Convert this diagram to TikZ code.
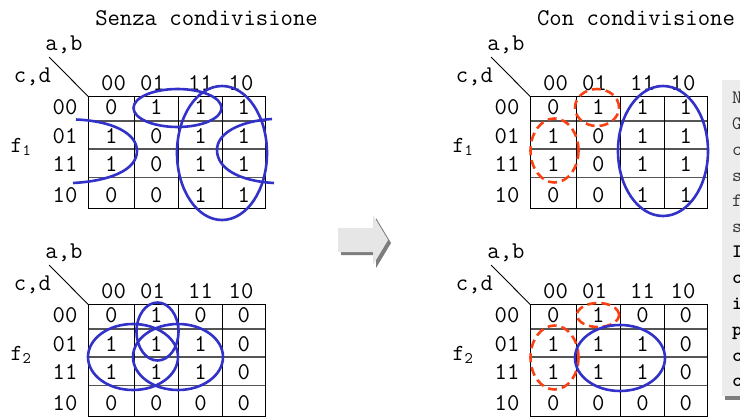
\documentclass[tikz,border=0pt]{standalone}
\definecolor{kblue}{RGB}{50,50,200}
\definecolor{kred}{RGB}{250,65,20}
\definecolor{hgray}{RGB}{85,85,85}
\definecolor{boxgray}{RGB}{236,236,236}
\definecolor{arrowfill}{RGB}{230,230,230}
\definecolor{arrowshade}{RGB}{125,125,125}
\newcommand\kmapgrid[3]{%
\begin{scope}[shift={#2}]
 \foreach \y in {120.7,149,177.3} \draw[gridh] (88.5,\y) -- (265,\y);
 \foreach \x in {134.3,178.5,222.5} \draw[gridv] (\x,96.7) -- (\x,208.5);
 \draw[gridv] (88.5,96.7) rectangle (265,208.5);
 \coordinate (#1-corner) at (88.5,96.7);
 \coordinate (#1-diag) at (49,57);
 \draw[gridv] (#1-diag) -- (#1-corner);
 \node[lab] (#1-ab) at (64,45) {a,b};
 \node[lab] (#1-cd) at (32.5,77) {c,d};
 \foreach \t/\xx [count=\k] in {00/113.5,01/152.5,11/200.5,10/241}
   \node[lab] (#1-col\k) at (\xx,83) {\t};
 \foreach \t/\yy [count=\k] in {00/107.5,01/136,11/164.5,10/195}
   \node[lab] (#1-row\k) at (65,\yy) {\t};
 \foreach \v [count=\k from 0] in {#3} {
   \pgfmathtruncatemacro\rr{int(\k/4)}
   \pgfmathtruncatemacro\cc{mod(\k,4)}
   \pgfmathsetmacro\xx{{111.4,156.4,200.5,243.8}[\cc]}
   \pgfmathsetmacro\yy{{107.5,136,164.5,195}[\rr]}
   \node[lab] (#1-c\rr\cc) at (\xx,\yy) {\v};
 }
\end{scope}}
\begin{document}
\begin{tikzpicture}[x=1pt,y=-1pt,
  lab/.style={font=\fontsize{24}{24}\selectfont\ttfamily, inner sep=0pt},
  ttl/.style={font=\fontsize{24}{24}\selectfont\ttfamily, inner sep=0pt},
  flab/.style={font=\fontsize{23}{23}\selectfont\ttfamily, inner sep=0pt},
  boxtxt/.style={font=\fontsize{19}{19}\selectfont\ttfamily, inner sep=0pt, anchor=base west, text=black!80},
  boxbold/.style={font=\fontsize{19}{19}\selectfont\ttfamily\bfseries, inner sep=0pt, anchor=base west, text=black},
  gridv/.style={line width=0.9pt, black},
  gridh/.style={line width=1.6pt, hgray},
  bluering/.style={line width=2.6pt, kblue},
  redring/.style={line width=2.6pt, kred, dash pattern=on 9pt off 5pt}]
\useasboundingbox (0,0) rectangle (740,418);
\fill[white] (0,0) rectangle (740,418);

% titles
\node[ttl] (t1) at (206.5,18) {Senza condivisione};
\node[ttl] (t2) at (636,18) {Con condivisione};

% maps
\kmapgrid{L1}{(0,0)}{0,1,1,1,1,0,1,1,1,0,1,1,0,0,1,1}
\kmapgrid{L2}{(0,208)}{0,1,0,0,1,1,1,0,1,1,1,0,0,0,0,0}
\kmapgrid{R1}{(442,0)}{0,1,1,1,1,0,1,1,1,0,1,1,0,0,1,1}
\kmapgrid{R2}{(442,208)}{0,1,0,0,1,1,1,0,1,1,1,0,0,0,0,0}

% function labels
\node[flab] (fL1) at (21,147) {f\textsubscript{1}};
\node[flab] (fL2) at (21,355) {f\textsubscript{2}};
\node[flab] (fR1) at (463,147) {f\textsubscript{1}};
\node[flab] (fR2) at (463,355) {f\textsubscript{2}};

% left f1 groups
\draw[bluering] (177.5,108) ellipse [x radius=44pt, y radius=19pt];
\draw[bluering] (222,153) ellipse [x radius=45pt, y radius=67pt];
\draw[bluering] (76,119.5) .. controls (112,121) and (137,133) .. (137,151)
   .. controls (137,170) and (110,181) .. (73,183);
\draw[bluering] (272,119) .. controls (240,121) and (217,133) .. (217,150)
   .. controls (217,168) and (238,181) .. (274,183);

% left f2 groups
\draw[bluering] (157.5,331.5) ellipse [x radius=21pt, y radius=29pt];
\draw[bluering] (133,357) ellipse [x radius=45pt, y radius=33pt];
\draw[bluering] (178,357) ellipse [x radius=45pt, y radius=33pt];

% right f1 groups
\draw[redring] (597,107.5) ellipse [x radius=22pt, y radius=18.5pt];
\draw[redring] (554.5,150.5) ellipse [x radius=24pt, y radius=32pt];
\draw[bluering] (663,151) ellipse [x radius=45pt, y radius=65pt];

% right f2 groups
\draw[redring] (598,315) ellipse [x radius=21pt, y radius=12pt];
\draw[redring] (554.5,357.5) ellipse [x radius=24pt, y radius=32pt];
\draw[bluering] (620,358) ellipse [x radius=45pt, y radius=33pt];

% arrow
\fill[arrowshade] (341,231) -- (376,231) -- (376,218) -- (391,243) -- (376,268) -- (376,255) -- (341,255) -- cycle;
\fill[arrowfill] (338,228) -- (373,228) -- (373,215) -- (388,240) -- (373,265) -- (373,252) -- (338,252) -- cycle;

% side note box
\fill[arrowshade] (725,395) rectangle (745,400);
\fill[boxgray] (722,80) rectangle (745,396);
\node[boxtxt] (b1) at (732,103.3) {N};
\node[boxtxt] (b2) at (732,129.5) {G};
\node[boxtxt] (b3) at (732,155) {c};
\node[boxtxt] (b4) at (732,181) {s};
\node[boxtxt] (b5) at (732,206.7) {f};
\node[boxtxt] (b6) at (732,232) {s};
\node[boxbold] (b7) at (732,257) {I};
\node[boxbold] (b8) at (732,283) {c};
\node[boxbold] (b9) at (732,309.5) {i};
\node[boxbold] (b10) at (732,335) {p};
\node[boxbold] (b11) at (732,361) {c};
\node[boxbold] (b12) at (732,386.5) {c};
\end{tikzpicture}
\end{document}
